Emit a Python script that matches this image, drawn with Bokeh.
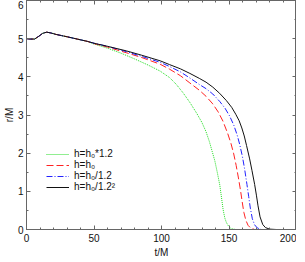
from bokeh.plotting import figure
from bokeh.models import Range1d, LinearAxis, Legend, LegendItem, FixedTicker, CustomJSTickFormatter
from bokeh.embed import file_html
from bokeh.resources import INLINE

# shared early part of all runs
t_common = [0, 3, 6, 9, 12, 15, 18, 22, 26, 30, 35, 40, 45]
r_common = [5.00, 4.99, 4.99, 5.06, 5.14, 5.17, 5.15, 5.11, 5.08, 5.05, 5.01, 4.97, 4.93]

t_green = [50, 60, 70, 80, 90, 99, 106, 111, 116, 121, 126, 130, 133, 135.5, 137.5, 139.5,
           141.3, 143.2, 144.4, 145.6, 146.9, 148.1, 150, 151.8, 155, 200]
r_green = [4.86, 4.75, 4.62, 4.47, 4.31, 4.15, 3.98, 3.80, 3.58, 3.33, 3.05, 2.80, 2.56, 2.30, 2.05, 1.80,
           1.50, 1.16, 0.85, 0.53, 0.30, 0.18, 0.07, 0.02, 0.0, 0.0]

t_red = [50, 60, 74, 85, 99, 106, 114, 121, 128, 133, 138, 142, 145.5, 149, 151.5, 153.5,
         155.3, 157, 158.5, 159.8, 161, 162.5, 164.1, 166, 169, 200]
r_red = [4.87, 4.78, 4.63, 4.51, 4.33, 4.20, 4.03, 3.84, 3.65, 3.49, 3.29, 3.08, 2.84, 2.52, 2.25, 1.98,
         1.68, 1.35, 1.03, 0.72, 0.45, 0.24, 0.11, 0.04, 0.0, 0.0]

t_blue = [50, 60, 74, 85, 99, 106, 114, 121, 128, 133, 138, 143, 147, 150.5, 153.5, 156,
          158, 160, 161.5, 163.3, 164.6, 165.8, 167.3, 169, 171, 174, 200]
r_blue = [4.88, 4.80, 4.66, 4.54, 4.38, 4.27, 4.13, 3.97, 3.80, 3.69, 3.55, 3.36, 3.18, 2.97, 2.74, 2.48,
          2.22, 1.90, 1.60, 1.18, 0.86, 0.56, 0.28, 0.12, 0.04, 0.0, 0.0]

t_black = [50, 60, 74, 85, 99, 106, 114, 121, 128, 133, 138, 143, 148, 152, 155, 157.5,
           159.5, 161.3, 163, 165.3, 167, 169, 170.3, 171.5, 173, 175, 177, 180, 185, 200]
r_black = [4.88, 4.80, 4.68, 4.57, 4.42, 4.32, 4.21, 4.09, 3.96, 3.86, 3.73, 3.57, 3.38, 3.20, 3.02, 2.85,
           2.66, 2.45, 2.20, 1.85, 1.55, 1.18, 0.90, 0.62, 0.33, 0.13, 0.05, 0.01, 0.0, 0.0]

x_ticks = [0, 50, 100, 150, 200]
y_ticks = [0, 1, 2, 3, 4, 5, 6]

labels = ["h=h\u2080*1.2", "h=h\u2080", "h=h\u2080/1.2", "h=h\u2080/1.2\u00b2"]

FONT = "Liberation Sans"
FRAME = "#666666"

p = figure(width=296, height=260, output_backend="svg", toolbar_location=None,
           x_range=Range1d(0, 200), y_range=Range1d(0, 6),
           min_border_left=0, min_border_right=0, min_border_top=0, min_border_bottom=0)
p.grid.visible = False
p.outline_line_color = FRAME
p.outline_line_width = 1
p.background_fill_color = "white"
p.border_fill_color = "white"

def style_axis(ax, show_labels=True):
    ax.axis_line_color = FRAME
    ax.major_tick_line_color = FRAME
    ax.minor_tick_line_color = FRAME
    ax.major_tick_in = 4
    ax.major_tick_out = 0
    ax.minor_tick_in = 2
    ax.minor_tick_out = 0
    ax.major_label_text_font = FONT
    ax.major_label_text_font_size = "10px"
    ax.major_label_text_color = "#111111"
    ax.axis_label_text_font = FONT
    ax.axis_label_text_font_size = "10px"
    ax.axis_label_text_font_style = "normal"
    ax.axis_label_text_color = "#111111"
    if not show_labels:
        ax.formatter = CustomJSTickFormatter(code="return ''")
        ax.major_label_standoff = 0

xt = FixedTicker(ticks=x_ticks, minor_ticks=list(range(0, 201, 10)))
yt = FixedTicker(ticks=y_ticks, minor_ticks=[i * 0.5 for i in range(13)])

p.xaxis.ticker = xt
p.yaxis.ticker = yt
p.xaxis.axis_label = "t/M"
p.yaxis.axis_label = "r/M"
style_axis(p.xaxis[0])
style_axis(p.yaxis[0])
p.xaxis.major_label_standoff = 4
p.xaxis.axis_label_standoff = 2
p.yaxis.major_label_standoff = 3
p.yaxis.axis_label_standoff = 0

top = LinearAxis(ticker=xt)
style_axis(top, False)
p.add_layout(top, "above")
right = LinearAxis(ticker=yt)
style_axis(right, False)
p.add_layout(right, "right")

g = p.line(t_common + t_green, r_common + r_green, line_color="#22dd22", line_width=1, line_dash="1 1")
r = p.line(t_common + t_red, r_common + r_red, line_color="#ff2222", line_width=1, line_dash="7 3")
b = p.line(t_common + t_blue, r_common + r_blue, line_color="#2222ff", line_width=1, line_dash="6 2 1 2")
k = p.line(t_common + t_black, r_common + r_black, line_color="#111111", line_width=1)

legend = Legend(items=[LegendItem(label=labels[0], renderers=[g]),
                       LegendItem(label=labels[1], renderers=[r]),
                       LegendItem(label=labels[2], renderers=[b]),
                       LegendItem(label=labels[3], renderers=[k])],
                location=(20, 37), padding=0, margin=0, spacing=-2,
                glyph_width=23, glyph_height=10, label_height=10, label_standoff=5,
                label_text_font=FONT, label_text_font_size="10px", label_text_color="#111111",
                border_line_color=None, background_fill_alpha=0)
p.add_layout(legend, "center")

open("out.html", "w").write(file_html(p, INLINE))
